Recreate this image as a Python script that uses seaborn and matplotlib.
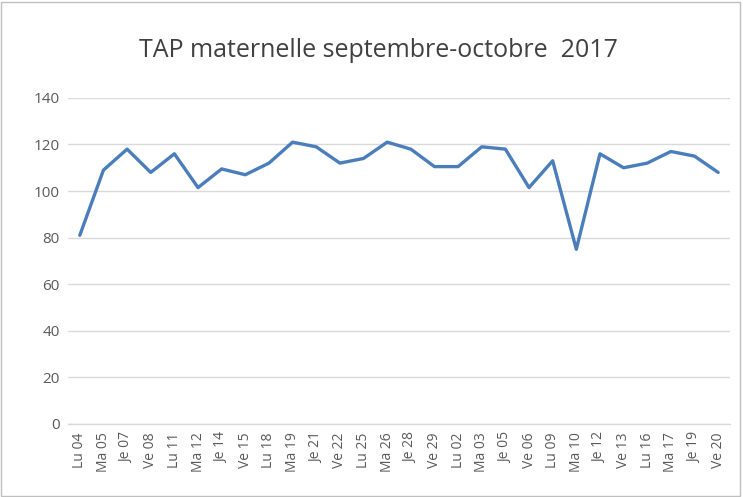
import matplotlib
matplotlib.use("Agg")
import matplotlib.pyplot as plt
import seaborn as sns
import pandas as pd
from matplotlib.patches import Rectangle

days = ["Lu 04", "Ma 05", "Je 07", "Ve 08", "Lu 11", "Ma 12", "Je 14", "Ve 15",
        "Lu 18", "Ma 19", "Je 21", "Ve 22", "Lu 25", "Ma 26", "Je 28", "Ve 29",
        "Lu 02", "Ma 03", "Je 05", "Ve 06", "Lu 09", "Ma 10", "Je 12", "Ve 13",
        "Lu 16", "Ma 17", "Je 19", "Ve 20"]
values = [81, 109, 118, 108, 116, 101.5, 109.5, 107, 112, 121, 119, 112,
          114, 121, 118, 110.5, 110.5, 119, 118, 101.5, 113, 75, 116, 110,
          112, 117, 115, 108]
yticks = [0, 20, 40, 60, 80, 100, 120, 140]
title = "TAP maternelle septembre-octobre  2017"

sns.set_theme(style="white")
plt.rcParams['font.family'] = ['Open Sans', 'DejaVu Sans']

df = pd.DataFrame({"pos": range(len(days)), "val": values})

fig = plt.figure(figsize=(7.43, 4.97), dpi=100)
ax = fig.add_axes([0.0915, 0.147, 0.891, 0.656])
sns.lineplot(data=df, x="pos", y="val", ax=ax, color="#4A7EBB", linewidth=2.4)

ax.set_xlim(-0.5, len(days) - 0.5)
ax.set_ylim(0, 140)
ax.set_yticks(yticks)
ax.set_yticklabels([str(v) for v in yticks], fontsize=11, color="#595959")
ax.set_xticks(range(len(days)))
ax.set_xticklabels(days, rotation=90, fontsize=10, color="#595959")
ax.tick_params(axis="both", length=0, pad=6)
ax.yaxis.grid(True, color="#D9D9D9", linewidth=1)
ax.set_axisbelow(True)
for s in ["top", "right", "left"]:
    ax.spines[s].set_visible(False)
ax.spines["bottom"].set_color("#D9D9D9")
ax.spines["bottom"].set_linewidth(1)
ax.set_xlabel("")
ax.set_ylabel("")

fig.text(0.509, 0.899, title, ha="center", va="center", fontsize=18, color="#404040")
fig.patches.append(Rectangle((0.002, 0.002), 0.994, 0.994, transform=fig.transFigure,
                             fill=False, edgecolor="#BFBFBF", linewidth=1))

fig.savefig("out.png", dpi=100)
